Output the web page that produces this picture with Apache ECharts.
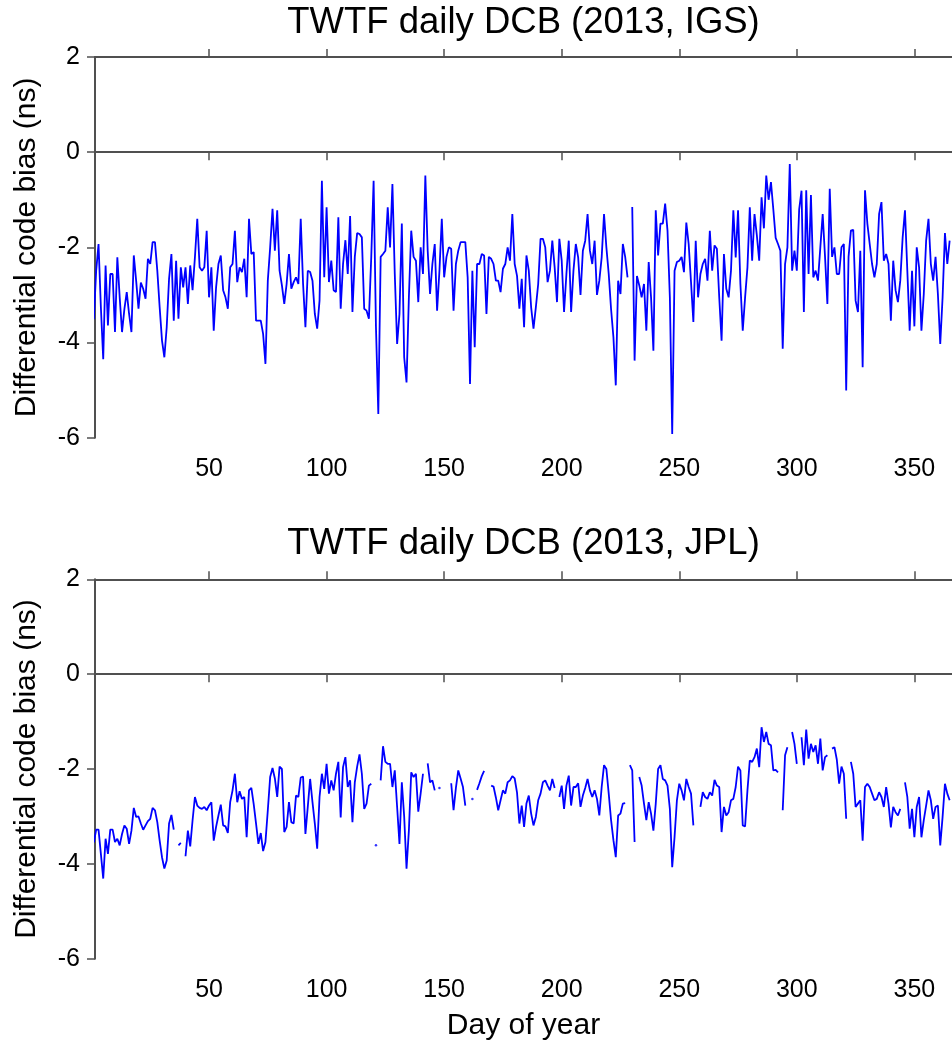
<!DOCTYPE html>
<html><head><meta charset="utf-8">
<script src="https://cdn.jsdelivr.net/npm/echarts@6/dist/echarts.min.js"></script>
<style>html,body{margin:0;padding:0;background:#fff}#c{width:952px;height:1044px}</style>
</head><body><div id="c"></div>
<script>
const titles = ['TWTF daily DCB (2013, IGS)', 'TWTF daily DCB (2013, JPL)'];
const yName = 'Differential code bias (ns)';
const xName = 'Day of year';
const xTicks = [50, 100, 150, 200, 250, 300, 350];
const days = [];
for (let d = 1; d <= 365; d++) days.push(d);

const igs = [
-3.51,-2.49,-1.93,-3.26,-4.35,-2.38,-3.64,-2.56,-2.56,-3.78,
-2.21,-3.05,-3.78,-3.3,-2.94,-3.4,-3.78,-2.17,-2.7,-3.29,
-2.74,-2.87,-3.08,-2.24,-2.35,-1.89,-1.89,-2.49,-3.26,-3.96,
-4.31,-3.68,-2.66,-2.14,-3.54,-2.28,-3.5,-2.42,-2.84,-2.42,
-3.19,-2.38,-2.9,-2.21,-1.4,-2.42,-2.49,-2.42,-1.65,-3.05,
-2.42,-3.75,-2.84,-2.35,-2.17,-2.9,-3.05,-3.29,-2.42,-2.35,
-1.65,-2.73,-2.42,-2.52,-2.24,-3.05,-1.4,-2.14,-2.1,-3.54,
-3.54,-3.54,-3.82,-4.45,-2.7,-2.0,-1.19,-2.07,-1.22,-2.49,
-2.8,-3.19,-2.77,-2.14,-2.87,-2.73,-2.63,-2.77,-1.4,-2.77,
-3.68,-2.49,-2.52,-2.7,-3.4,-3.71,-3.12,-0.6,-2.63,-1.16,
-2.73,-2.28,-2.9,-2.94,-1.37,-3.29,-2.35,-1.85,-2.56,-1.34,
-3.36,-2.2,-1.7,-1.72,-1.79,-3.29,-3.33,-3.5,-2.2,-0.6,
-3.68,-5.5,-2.2,-2.14,-2.07,-1.16,-2.0,-0.67,-2.56,-4.03,
-3.4,-1.5,-4.31,-4.84,-3.05,-1.65,-2.2,-2.28,-3.15,-2.0,
-2.56,-0.49,-2.07,-2.98,-2.35,-1.93,-3.33,-2.49,-1.4,-2.63,
-2.2,-2.0,-2.03,-3.33,-2.35,-2.07,-1.89,-1.89,-1.89,-2.63,
-4.87,-2.49,-4.1,-2.35,-2.35,-2.14,-2.17,-3.4,-2.2,-2.24,
-2.35,-2.7,-2.7,-2.94,-2.45,-2.35,-2.0,-2.28,-1.3,-2.35,
-2.6,-3.29,-2.66,-3.68,-2.17,-2.49,-3.26,-3.71,-3.26,-2.77,
-1.82,-1.82,-2.0,-2.73,-2.49,-1.86,-2.42,-3.15,-1.82,-2.28,
-3.36,-2.56,-1.86,-3.36,-2.49,-1.93,-2.21,-3.0,-2.07,-1.86,
-1.3,-2.07,-2.35,-1.86,-3.0,-2.7,-2.21,-1.3,-2.0,-2.56,
-3.3,-3.89,-4.9,-2.7,-2.98,-1.93,-2.2,-2.63,null,-1.15,
-4.38,-2.6,-2.8,-3.05,-2.77,-3.75,-2.31,-3.05,-4.17,-1.22,
-2.17,-1.5,-1.5,-1.08,-1.65,-3.05,-5.92,-2.49,-2.31,-2.28,
-2.2,-2.52,-1.48,-1.93,-2.73,-3.57,-1.86,-3.05,-2.56,-2.35,
-2.24,-2.7,-1.65,-2.49,-1.96,-2.03,-3.05,-3.96,-2.14,-2.87,
-3.05,-2.49,-1.22,-2.21,-1.22,-2.77,-3.75,-3.05,-2.42,-1.16,
-2.28,-1.3,-1.75,-2.28,-0.95,-1.6,-0.49,-1.0,-0.63,-1.2,
-1.8,-1.93,-2.07,-4.13,-2.35,-2.0,-0.25,-2.49,-2.07,-2.49,
-1.2,-0.81,-3.36,-0.8,-2.56,-0.9,-2.63,-2.49,-2.7,-2.0,
-1.3,-2.2,-3.19,-0.77,-2.2,-2.0,-2.56,-2.56,-2.0,-1.93,
-5.01,-2.2,-1.65,-1.63,-3.12,-3.36,-2.07,-4.52,-0.8,-1.5,
-1.93,-2.35,-2.63,-2.35,-1.3,-1.05,-2.28,-2.14,-2.35,-3.54,
-2.28,-2.9,-3.15,-2.7,-1.8,-1.22,-2.49,-3.75,-2.49,-3.66,
-2.0,-2.42,-3.75,-2.98,-1.86,-1.4,-2.35,-2.7,-2.2,-2.98,
-4.03,-3.05,-1.7,-2.35,-1.86
];

const jpl = [
-3.55,-3.28,-3.28,-3.79,-4.31,-3.47,-3.79,-3.28,-3.28,-3.54,
-3.47,-3.61,-3.37,-3.19,-3.26,-3.58,-3.3,-2.82,-3.01,-3.0,
-3.15,-3.28,-3.19,-3.1,-3.05,-2.82,-2.87,-3.12,-3.51,-3.86,
-4.1,-3.93,-3.15,-2.97,-3.28,null,-3.61,-3.56,null,-3.84,
-3.3,-3.63,-3.08,-2.59,-2.77,-2.82,-2.84,-2.8,-2.87,-2.77,
-2.7,-3.51,-3.22,-2.98,-2.75,-3.19,-3.21,-3.35,-2.7,-2.45,
-2.1,-2.7,-2.47,-2.63,-2.59,-3.44,-2.45,-2.4,-2.74,-3.15,
-3.58,-3.35,-3.73,-3.54,-2.87,-2.17,-1.98,-2.2,-2.59,-1.95,
-2.0,-3.33,-3.22,-2.7,-3.12,-3.15,-2.56,-2.59,-2.18,-2.16,
-3.37,-2.8,-2.21,-2.7,-3.15,-3.68,-2.59,-2.1,-2.42,-1.89,
-2.52,-2.24,-2.45,-2.1,-1.85,-3.02,-1.96,-1.75,-2.38,-2.24,
-3.12,-2.28,-1.95,-1.69,-2.1,-2.84,-2.73,-2.35,-2.31,null,
-3.61,null,-2.24,-1.52,-1.85,-1.89,-1.89,-2.38,-2.03,-2.8,
-3.58,-2.28,-3.0,-4.1,-3.3,-2.07,-2.17,-2.1,-2.9,-2.52,
-2.1,null,-1.88,-2.28,-2.24,-2.45,null,-2.4,null,null,
null,null,-2.3,-2.87,-2.4,-2.03,-2.2,-2.38,-2.77,null,
null,-2.63,null,-2.44,-2.3,-2.15,-2.04,null,null,-2.35,
-2.37,-2.6,-2.87,-2.66,-2.45,-2.52,-2.28,-2.24,-2.15,-2.2,
-2.5,-3.15,-2.77,-3.22,-2.73,-2.56,-2.94,-3.19,-3.01,-2.66,
-2.52,-2.28,-2.24,-2.35,-2.45,-2.21,-2.4,null,-2.59,-2.35,
-2.84,-2.35,-2.14,-2.77,-2.38,-2.38,-2.3,-2.8,-2.56,-2.4,
-2.21,-2.45,-2.59,-2.45,-2.63,-2.98,-2.38,-1.92,-2.0,-2.52,
-3.08,-3.5,-3.86,-2.98,-2.94,-2.73,-2.72,null,-1.92,-2.03,
-3.54,null,-2.17,-2.35,-2.73,-3.08,-2.7,-2.94,-3.3,-2.73,
-2.0,-1.92,-2.21,-2.24,-2.35,-2.84,-4.07,-3.43,-2.66,-2.31,
-2.45,-2.66,-2.21,-2.38,-2.52,-3.19,null,null,-2.8,-2.49,
-2.59,-2.63,-2.49,-2.56,-2.23,-2.35,-2.38,-3.33,-2.8,-2.98,
-2.91,-2.66,-2.63,-2.38,-1.95,-2.03,-3.19,-3.21,-2.45,-1.82,
-1.85,-1.75,-1.57,-1.96,-1.12,-1.43,-1.22,-1.47,-1.5,-2.03,
-2.02,-2.07,null,-2.87,-1.71,-1.54,null,-1.22,-1.47,-1.89,
null,-1.33,-1.92,-1.17,-1.78,-1.47,-1.64,-1.5,-1.89,-1.36,
-2.03,-1.75,-1.71,null,-1.57,-1.54,-1.8,-2.31,-1.95,-2.1,
-3.05,null,-1.85,-2.1,-2.8,-2.73,-2.66,-3.51,-2.38,-2.31,
-2.38,-2.52,-2.66,-2.63,-2.49,-2.59,-2.8,-2.38,-2.73,-3.23,
-2.8,-2.91,-2.98,-2.84,null,-2.28,-2.59,-3.26,-2.84,-3.44,
-2.8,-2.59,-3.44,-3.08,-2.77,-2.45,-2.66,-3.05,-2.8,-2.77,
-3.61,-3.01,-2.31,-2.52,-2.66
];

const FONT = "'Liberation Sans', Arial, Helvetica, sans-serif";
const AX = '#505050';
const LINE = '#0000ff';
const grids = [
  {left: 95, top: 57, width: 860, height: 380.7},
  {left: 95, top: 579.3, width: 860, height: 379.4}
];
const titleY = [22.5, 544];

// points whose neighbours are both missing (drawn as tiny dots, as in the source)
function isolated(vals) {
  const out = [];
  vals.forEach((v, k) => {
    const prev = k > 0 ? vals[k - 1] : null;
    const next = k < vals.length - 1 ? vals[k + 1] : null;
    if (v !== null && prev === null && next === null) out.push([days[k], v]);
  });
  return out;
}

const xAxes = [], yAxes = [], series = [], graphics = [];
[igs, jpl].forEach((vals, i) => {
  xAxes.push({
    type: 'value', gridIndex: i, position: 'bottom', min: 1.5, max: 366,
    axisLine: {show: true, lineStyle: {color: AX, width: 2}},
    axisTick: {show: true, inside: false, length: 8, lineStyle: {color: AX, width: 1.5}, customValues: xTicks},
    axisLabel: {show: true, margin: 19, fontSize: 25, color: '#000', fontFamily: FONT, customValues: xTicks},
    splitLine: {show: false},
    name: i === 1 ? xName : '', nameLocation: 'middle', nameGap: 52,
    nameTextStyle: {fontSize: 30, color: '#000', fontFamily: FONT}
  });
  xAxes.push({
    type: 'value', gridIndex: i, position: 'top', min: 1.5, max: 366,
    axisLine: {show: true, lineStyle: {color: AX, width: 2}},
    axisTick: {show: true, inside: false, length: 8, lineStyle: {color: AX, width: 1.5}, customValues: xTicks},
    axisLabel: {show: false, customValues: xTicks},
    splitLine: {show: false}
  });
  yAxes.push({
    type: 'value', gridIndex: i, position: 'left', min: -6, max: 2, interval: 2,
    axisLine: {show: true, lineStyle: {color: AX, width: 2}},
    axisTick: {show: true, inside: false, length: 8, lineStyle: {color: AX, width: 1.5}},
    axisLabel: {margin: 15, fontSize: 25, color: '#000', fontFamily: FONT},
    splitLine: {show: false},
    name: yName, nameLocation: 'middle', nameGap: 53, nameRotate: 90,
    nameTextStyle: {fontSize: 30, color: '#000', fontFamily: FONT}
  });
  series.push({
    type: 'line', xAxisIndex: i * 2, yAxisIndex: i,
    data: days.map((d, k) => [d, vals[k]]),
    showSymbol: false, symbol: 'none', connectNulls: false,
    lineStyle: {color: LINE, width: 1.8}, itemStyle: {color: LINE},
    silent: true
  });
  series.push({
    type: 'scatter', xAxisIndex: i * 2, yAxisIndex: i,
    data: isolated(vals), symbol: 'circle', symbolSize: 2.5,
    itemStyle: {color: LINE}, silent: true
  });
  graphics.push({
    type: 'text', x: grids[i].left + (952 - grids[i].left) / 2, y: titleY[i],
    style: {text: titles[i], fontSize: 36.5, fontFamily: FONT, fill: '#000', align: 'center', verticalAlign: 'middle'}
  });
});

const chart = echarts.init(document.getElementById('c'), null, {renderer: 'canvas'});
chart.setOption({
  animation: false,
  backgroundColor: '#fff',
  grid: grids,
  xAxis: xAxes,
  yAxis: yAxes,
  series: series,
  graphic: graphics
});
</script></body></html>
